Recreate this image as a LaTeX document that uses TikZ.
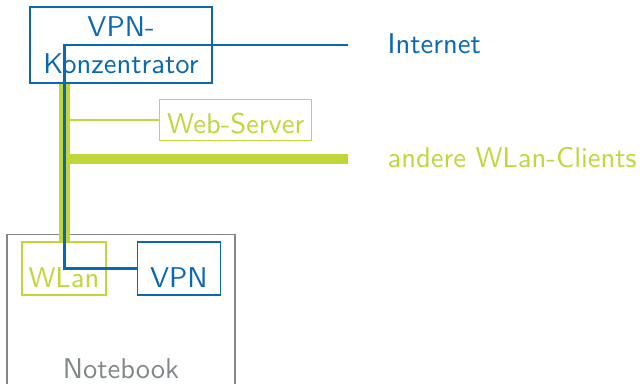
\documentclass[tikz,border=0pt]{standalone}
\usepackage{fontspec}
\usepackage{tikz}
\usetikzlibrary{positioning}
\definecolor{vpnblue}{RGB}{10,104,178}
\definecolor{wlangreen}{RGB}{192,214,58}
\definecolor{nbgray}{RGB}{130,135,138}

\begin{document}
\begin{tikzpicture}[x=0.35pt, y=-0.35pt, font=\sffamily\fontsize{10}{13}\selectfont,
  box/.style = {draw, line width=0.5pt, inner sep=0pt},
  bluebox/.style = {box, draw=vpnblue, text=vpnblue},
  greenbox/.style = {box, draw=wlangreen, text=wlangreen},
  vpnline/.style = {draw=vpnblue, line width=1pt},
  wlanline/.style = {draw=wlangreen, line width=3.7pt},
  wlanthin/.style = {draw=wlangreen, line width=0.5pt}]
\useasboundingbox (0,0) rectangle (642,383);
\clip (0,0) rectangle (642,383);
% the notebook and its two interfaces
\node[box, draw=nbgray, text=nbgray, anchor=north, minimum width=79.8pt, text height=50.4pt, text depth=5.25pt] (nb) at (121,234) {Notebook};
\node[greenbox, minimum width=29.4pt, text height=15.75pt, text depth=2.8pt] (wlan) at (64,268.5) {WLan};
\node[bluebox, minimum width=29.05pt, text height=15.75pt, text depth=2.8pt, right=10.5pt of wlan] (vpn) {VPN};
% the network side
\node[bluebox, minimum width=63.7pt, minimum height=26.6pt, align=center] (konz) at (121,45) {VPN-\\Konzentrator};
\node[greenbox, minimum width=53.2pt, text height=11.9pt, text depth=2.45pt, anchor=north west] (web) at (159,99) {Web-Server};
\coordinate (bus) at (64.5,45);
\coordinate (inet) at (348,45);
\coordinate (clients) at (348,159);
\node[anchor=west, inner sep=0pt, text=vpnblue] (inetlabel) at (387,44) {Internet};
\node[anchor=west, inner sep=0pt, text=wlangreen] (clientslabel) at (387,158) {andere WLan-Clients};
% connections
\draw[wlanline] (bus |- konz.south) -- (bus |- wlan.north);
\draw[wlanline] (bus |- clients) -- (clients);
\draw[wlanthin] (bus |- web.west) -- (web.west);
\draw[vpnline] (vpn.west) -| (bus) -- (inet);
\end{tikzpicture}
\end{document}
